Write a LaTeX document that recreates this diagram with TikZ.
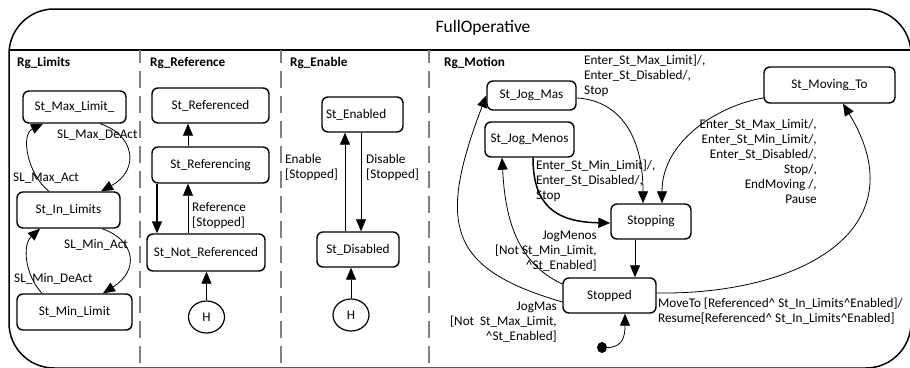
\documentclass[tikz,border=0pt]{standalone}
\usepackage{fontspec}
\setmainfont{Carlito}
\usetikzlibrary{arrows.meta,calc,shapes.geometric}
\definecolor{divgray}{RGB}{128,128,128}
\begin{document}
\begin{tikzpicture}[x=1pt,y=-1pt,
  every node/.style={font=\fontsize{13.2}{15}\selectfont},
  lbl/.style={inner sep=0pt},
  rglbl/.style={inner sep=0pt, anchor=west, font=\fontsize{13.2}{15}\selectfont\bfseries},
  state/.style={draw, line width=1.4pt, rounded corners=6pt, inner sep=2pt},
  hist/.style={draw, ellipse, line width=1.2pt, inner sep=0pt, minimum width=36pt, minimum height=32pt},
  tr/.style={line width=0.8pt, -{Triangle[length=12pt,width=10pt]}},
  trb/.style={tr, line width=1.5pt},
  divider/.style={draw=divgray, line width=2pt, dash pattern=on 17pt off 8pt, dash phase=4pt},
  frame/.style={draw, line width=1.5pt}]
\useasboundingbox (0,0) rectangle (910,367);
\clip (0,0) rectangle (910,367);

% outer frame
\draw[frame, rounded corners=45pt] (9,9) rectangle (911,368);
\draw[frame] (9,50) -- (911,50);
\node[lbl] (title) at (483,28) {\fontsize{17.5}{20}\selectfont FullOperative};

% dividers
\draw[divider] (140,50) -- (140,367);
\draw[divider] (281,50) -- (281,367);
\draw[divider] (429,50) -- (429,367);

% region labels
\node[rglbl] (rg1) at (17,63) {Rg\_Limits};
\node[rglbl] (rg2) at (150,63) {Rg\_Reference};
\node[rglbl] (rg3) at (290,63) {Rg\_Enable};
\node[rglbl] (rg4) at (444,63) {Rg\_Motion};

% states
\node[state, minimum width=103pt, minimum height=32pt] (maxlim) at (74.5,107) {St\_Max\_Limit\_};
\node[state, minimum width=103pt, minimum height=36pt] (inlim) at (68.5,210) {St\_In\_Limits};
\node[state, minimum width=115pt, minimum height=36pt] (minlim) at (74.5,312) {St\_Min\_Limit};
\node[state, minimum width=117pt, minimum height=35pt] (refd) at (210.5,105.5) {St\_Referenced};
\node[state, minimum width=117pt, minimum height=36pt] (refing) at (210.5,165) {St\_Referencing};
\node[state, minimum width=118pt, minimum height=37pt] (notref) at (206,252.5) {St\_Not\_Referenced};
\node[hist] (h1) at (206.5,317) {H};
\node[state, minimum width=81pt, minimum height=35pt, text width=73pt, align=left] (enabled) at (362.5,114.5) {St\_Enabled};
\node[state, minimum width=82pt, minimum height=35pt] (disabled) at (358,249.5) {St\_Disabled};
\node[hist] (h2) at (351,315) {H};
\node[state, minimum width=89pt, minimum height=29pt] (jogmas) at (531.5,95.5) {St\_Jog\_Mas};
\node[state, minimum width=89pt, minimum height=35pt] (jogmenos) at (529.5,139.5) {St\_Jog\_Menos};
\node[state, minimum width=131pt, minimum height=36pt] (movingto) at (829.5,85) {St\_Moving\_To};
\node[state, minimum width=80pt, minimum height=35pt] (stopping) at (651,221.5) {Stopping};
\node[state, minimum width=93pt, minimum height=35pt] (stopped) at (609.5,295.5) {Stopped};
\node[fill, ellipse, minimum width=10pt, minimum height=11pt, inner sep=0pt] (init) at (602,347.5) {};

% Rg_Limits
\draw[tr] ($(inlim.north)+(-19.5,0)$) .. controls (28,175) and (20,135) .. ($(maxlim.south)+(-31.5,0)$);
\draw[tr] ($(maxlim.south)+(25.5,0)$) .. controls (135,135) and (140,170) .. ($(inlim.north)+(32.5,0)$);
\draw[tr] ($(inlim.south)+(33.5,0)$) .. controls (135,240) and (140,270) .. ($(minlim.north)+(28.5,0)$);
\draw[tr] ($(minlim.north)+(-32.5,0)$) .. controls (25,275) and (22,245) .. ($(inlim.south)+(-28.5,0)$);
\node[lbl, anchor=west] (lmaxact) at (13,178) {SL\_Max\_Act};
\node[lbl, anchor=west] (lmaxdeact) at (57,135) {SL\_Max\_DeAct};
\node[lbl, anchor=west] (lminact) at (64,245) {SL\_Min\_Act};
\node[lbl, anchor=west] (lmindeact) at (14,279) {SL\_Min\_DeAct};

% Rg_Reference
\draw[tr] ([xshift=-22.5pt]refing.north) -- ([xshift=-22.5pt]refd.south);
\draw[trb] ([xshift=-53.5pt]refing.south) -- ([xshift=-49pt]notref.north);
\draw[tr] ([xshift=-18pt]notref.north) -- ([xshift=-22.5pt]refing.south);
\node[lbl, anchor=west, align=left] (lref) at (192,216) {Reference\\{[Stopped]}};
\draw[tr] (h1.north) -- (h1.north |- notref.south);

% Rg_Enable
\draw[tr] ([xshift=-13pt]disabled.north) -- ([xshift=-17.5pt]enabled.south);
\draw[tr] ([xshift=-1.5pt]enabled.south) -- ([xshift=3pt]disabled.north);
\node[lbl, anchor=west, align=left] (lenable) at (285,167.5) {Enable\\{[Stopped]}};
\node[lbl, anchor=west, align=left] (ldisable) at (366,167.5) {Disable\\{[Stopped]}};
\draw[tr] (h2.north) -- (h2.north |- disabled.south);

% Rg_Motion
\draw[tr] ($(stopped.west)+(0,6.5)$) .. controls (450,269) and (436,227) .. (jogmas.west);
\node[lbl, anchor=east, align=right] (ljogmas) at (557,322.5) {JogMas\\{[Not\ \ St\_Max\_Limit,}\\\textasciicircum St\_Enabled]};
\draw[tr] ($(stopped.west)+(0,-11.5)$) .. controls (515,262) and (505,215) .. ($(jogmenos.south)+(-27.5,0)$);
\node[lbl, anchor=east, align=right] (ljogmenos) at (597,251) {JogMenos\\{[Not St\_Min\_Limit,}\\\textasciicircum St\_Enabled]};
\draw[tr] ([xshift=-16pt]stopping.south) -- ([xshift=25.5pt]stopped.north);
\draw[tr] ($(jogmas.east)+(0,2.5)$) .. controls (615,100) and (643,130) .. ($(stopping.north)+(-8,0)$);
\node[lbl, anchor=west, align=left] (lexitmas) at (584,76) {Enter\_St\_Max\_Limit]/,\\Enter\_St\_Disabled/,\\Stop};
\draw[trb] ($(jogmenos.south)+(3.5,0)$) .. controls (533,205) and (555,222) .. ($(stopping.west)+(0,1.5)$);
\node[lbl, anchor=west, align=left] (lexitmenos) at (536,180.5) {Enter\_St\_Min\_Limit]/,\\Enter\_St\_Disabled/,\\Stop};
\draw[tr] ($(movingto.west)+(0,13)$) .. controls (720,105) and (662,140) .. ($(stopping.north)+(11,0)$);
\node[lbl, anchor=east, align=right] (lexitmov) at (817,161.5) {Enter\_St\_Max\_Limit/,\\Enter\_St\_Min\_Limit/,\\Enter\_St\_Disabled/,\\Stop/,\\EndMoving /,\\Pause};
\draw[tr] ($(stopped.east)+(0,-2.5)$) .. controls (800,295) and (920,230) .. ($(movingto.south)+(13.5,0)$);
\node[lbl, anchor=west, align=left] (lmove) at (658,311.5) {MoveTo [Referenced\textasciicircum{} St\_In\_Limits\textasciicircum Enabled]/\\Resume[Referenced\textasciicircum{} St\_In\_Limits\textasciicircum Enabled]};
\draw[tr] (init.east) .. controls +(16,0) and +(0,22) .. ($(stopped.south)+(15.5,0)$);
\end{tikzpicture}
\end{document}
